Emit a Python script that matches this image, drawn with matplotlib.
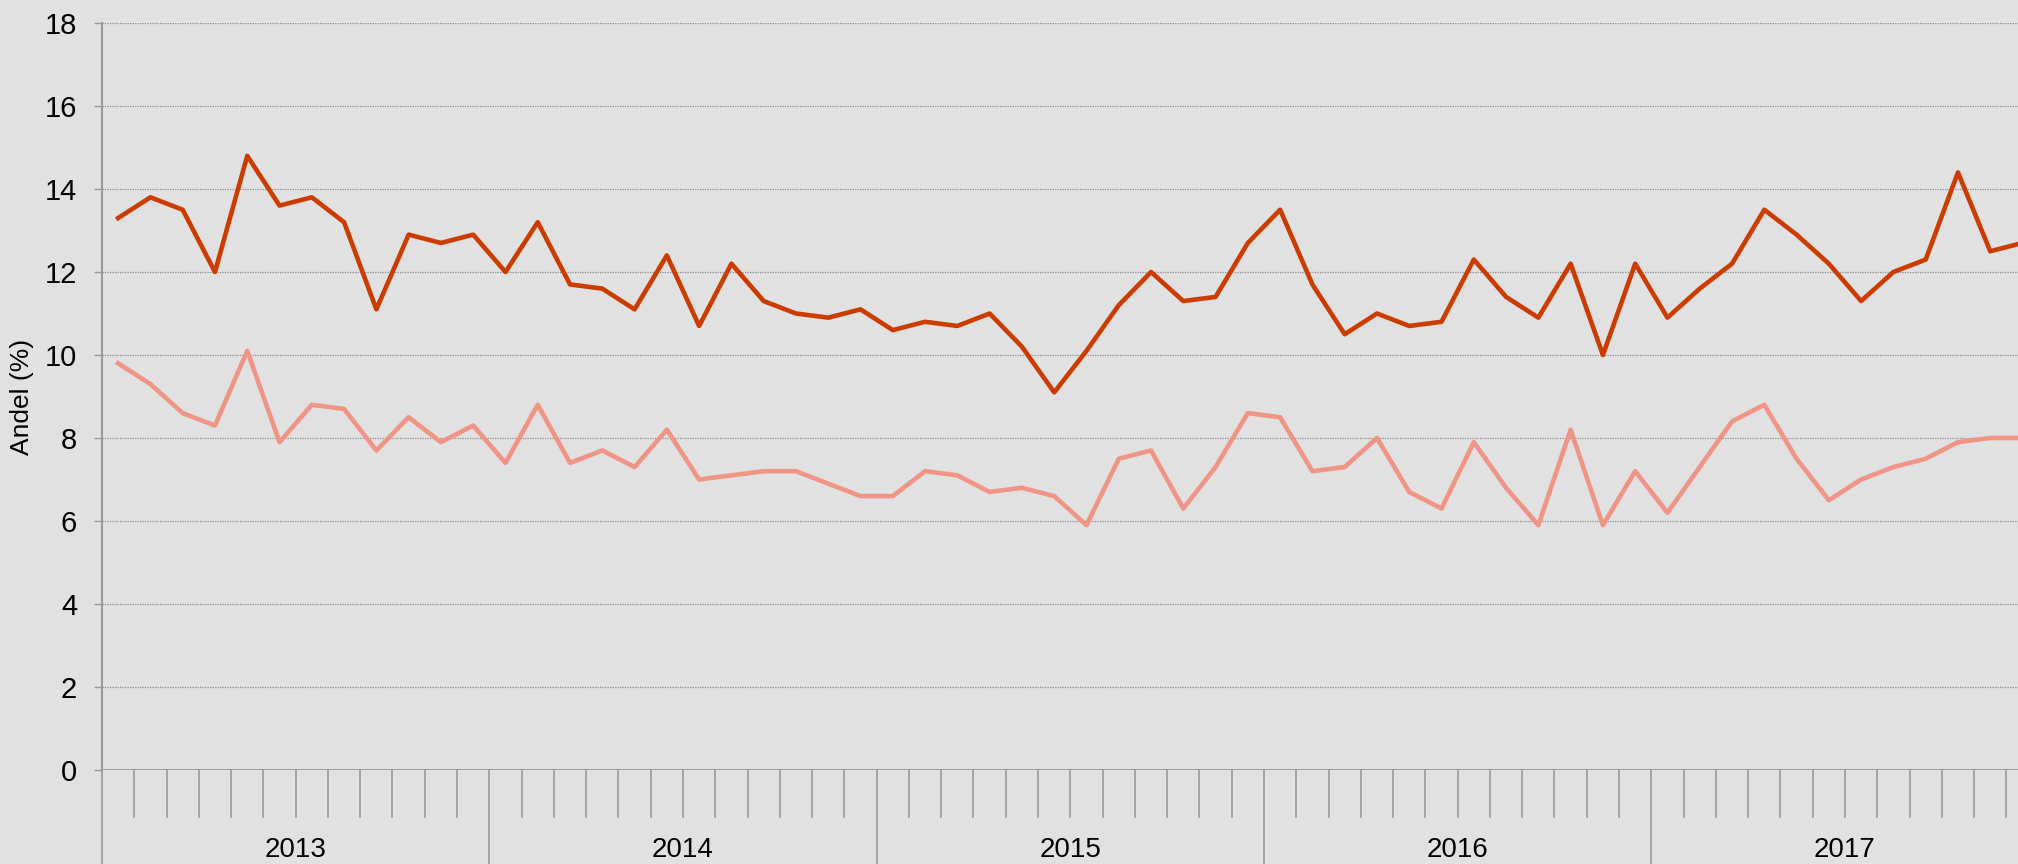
import numpy as np
import matplotlib
matplotlib.use('Agg')
import matplotlib.pyplot as plt
from matplotlib.transforms import blended_transform_factory

plt.rcParams['font.family'] = ['Liberation Sans', 'DejaVu Sans']

years = ['2013', '2014', '2015', '2016', '2017']

# monthly shares, Jan 2013 - Dec 2017
upper = [13.3, 13.8, 13.5, 12.0, 14.8, 13.6, 13.8, 13.2, 11.1, 12.9, 12.7, 12.9,
         12.0, 13.2, 11.7, 11.6, 11.1, 12.4, 10.7, 12.2, 11.3, 11.0, 10.9, 11.1,
         10.6, 10.8, 10.7, 11.0, 10.2, 9.1, 10.1, 11.2, 12.0, 11.3, 11.4, 12.7,
         13.5, 11.7, 10.5, 11.0, 10.7, 10.8, 12.3, 11.4, 10.9, 12.2, 10.0, 12.2,
         10.9, 11.6, 12.2, 13.5, 12.9, 12.2, 11.3, 12.0, 12.3, 14.4, 12.5, 12.7]
lower = [9.8, 9.3, 8.6, 8.3, 10.1, 7.9, 8.8, 8.7, 7.7, 8.5, 7.9, 8.3,
         7.4, 8.8, 7.4, 7.7, 7.3, 8.2, 7.0, 7.1, 7.2, 7.2, 6.9, 6.6,
         6.6, 7.2, 7.1, 6.7, 6.8, 6.6, 5.9, 7.5, 7.7, 6.3, 7.3, 8.6,
         8.5, 7.2, 7.3, 8.0, 6.7, 6.3, 7.9, 6.8, 5.9, 8.2, 5.9, 7.2,
         6.2, 7.3, 8.4, 8.8, 7.5, 6.5, 7.0, 7.3, 7.5, 7.9, 8.0, 8.0]

bg = '#e1e1e1'
axcol = '#9a9a9a'

fig = plt.figure(figsize=(20.18, 8.64), dpi=100, facecolor=bg)
ax = fig.add_axes([102 / 2018, 94 / 864, 1 - 102 / 2018, 747 / 864])
ax.set_facecolor(bg)

x = np.arange(len(upper)) + 0.5
ax.plot(x, lower, color='#f09486', lw=3.3, solid_joinstyle='round', zorder=3)
ax.plot(x, upper, color='#cc3c00', lw=3.3, solid_joinstyle='round', zorder=4)

ax.set_xlim(0, 59.36)
ax.set_ylim(0, 18)

# y axis
ax.set_yticks(range(0, 19, 2))
ax.tick_params(axis='y', length=6, width=1, color=axcol, labelsize=21, pad=12)
ax.yaxis.grid(True, linestyle=(0, (1, 1)), color='#8c8c8c', lw=0.9)
ax.set_axisbelow(True)
ax.set_ylabel('Andel (%)', fontsize=19, labelpad=8)

for s in ['top', 'right', 'bottom']:
    ax.spines[s].set_visible(False)
ax.spines['left'].set_color(axcol)
ax.spines['left'].set_linewidth(1.5)
ax.axhline(0, color=axcol, lw=2, zorder=5)

# x axis: month ticks, year separators, year labels
ax.set_xticks([])
trans = blended_transform_factory(ax.transData, ax.transAxes)
for m in range(0, 60):
    if m % 12 == 0:
        ax.plot([m, m], [0, -0.13], transform=trans, color=axcol, lw=1.2, clip_on=False)
    else:
        ax.plot([m, m], [0, -0.063], transform=trans, color=axcol, lw=1.2, clip_on=False)
for i, yr in enumerate(years):
    ax.text(i * 12 + 6, -0.107, yr, transform=trans, ha='center', va='center', fontsize=20)

fig.savefig('out.png', dpi=100, facecolor=bg)
